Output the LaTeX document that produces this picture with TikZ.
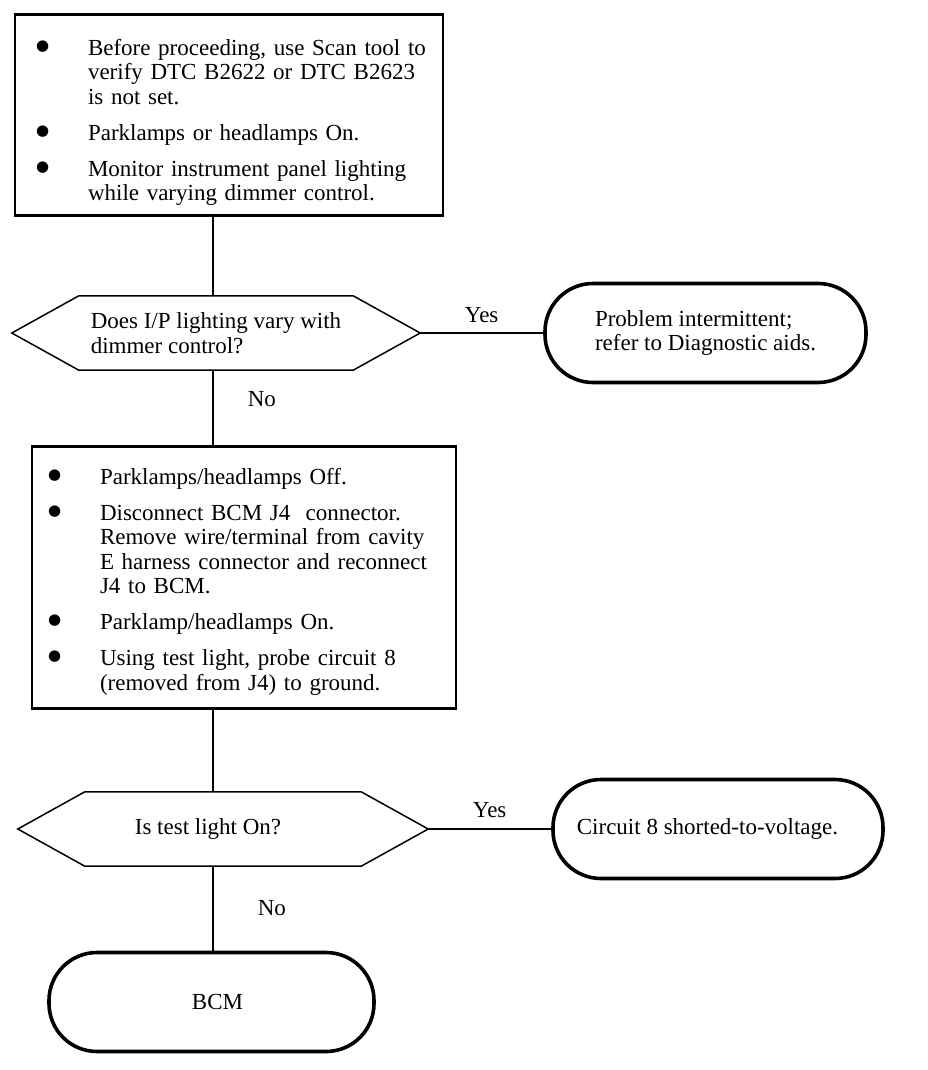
\documentclass[tikz,border=0pt]{standalone}
\usepackage{fontspec}
\setmainfont{Liberation Serif}
\newfontfamily\symfont{DejaVu Sans}
\usetikzlibrary{positioning}

\newcommand{\blt}{\raisebox{5pt}{\symfont\fontsize{15}{15}\selectfont ●}}

\begin{document}
\begin{tikzpicture}[x=1pt, y=1pt,
  font=\fontsize{23}{24.5}\selectfont,
  box/.style={draw, line width=2.6pt, anchor=north, inner ysep=0pt, align=left},
  query/.style={inner sep=0pt, minimum height=74pt},
  hexline/.style={line width=1.5pt, line join=miter},
  term/.style={draw, line width=3.6pt, rounded corners=48pt, inner sep=0pt, minimum height=99pt},
  lab/.style={inner sep=1pt},
  link/.style={line width=1.6pt},
]
\useasboundingbox (0,0) rectangle (928,-1070);
\coordinate (spine) at (213,0);

% checks before the first test
\node[box, inner xsep=21pt, text width=386pt, text height=41pt, text depth=160pt] (prep) at (229,-13) {%
  \begin{tabular}[t]{@{}p{52pt}@{}l@{}}
  \blt & Before proceeding, use Scan tool to\\
       & verify DTC B2622 or DTC B2623\\
       & is not set.\\[11.5pt]
  \blt & Parklamps or headlamps On.\\[11.5pt]
  \blt & Monitor instrument panel lighting\\
       & while varying dimmer control.
  \end{tabular}};

% first test
\node[query, minimum width=408pt, align=left] (q1) at (216,-333) {Does I/P lighting vary with\\dimmer control?};
\node[term, minimum width=321pt, align=left] (t1) at (705.5,-333) {Problem intermittent;\\refer to Diagnostic aids.};

% probing circuit 8
\node[box, inner xsep=16pt, text width=392pt, text height=38pt, text depth=224pt] (probe) at (244,-445) {%
  \begin{tabular}[t]{@{}p{52pt}@{}l@{}}
  \blt & Parklamps/headlamps Off.\\[11.5pt]
  \blt & Disconnect BCM J4\ \ connector.\\
       & Remove wire/terminal from cavity\\
       & E harness connector and reconnect\\
       & J4 to BCM.\\[11.5pt]
  \blt & Parklamp/headlamps On.\\[11.5pt]
  \blt & Using test light, probe circuit 8\\
       & (removed from J4) to ground.
  \end{tabular}};

% second test
\node[query, minimum width=410pt] (q2) at (223,-829) {Is test light On?\hspace{30pt}\mbox{}};
\node[term, minimum width=330pt] (t2) at (718,-829) {Circuit 8 shorted-to-voltage.\hspace{21pt}\mbox{}};
\node[term, minimum width=325pt] (bcm) at (211.5,-1002) {\hspace{12pt}BCM};

\foreach \q in {q1,q2}
  \draw[hexline] (\q.west) -- ([xshift=67pt]\q.north west) -- ([xshift=-67pt]\q.north east)
    -- (\q.east) -- ([xshift=-67pt]\q.south east) -- ([xshift=67pt]\q.south west) -- cycle;

\draw[link] (prep.south -| spine) -- (q1.north -| spine);
\draw[link] (q1.east) -- node[lab, above=8pt] {Yes} (t1.west);
\draw[link] (q1.south -| spine) -- node[lab, pos=0.38, right=33pt] {No} (probe.north -| spine);
\draw[link] (probe.south -| spine) -- (q2.north -| spine);
\draw[link] (q2.east) -- node[lab, above=9pt] {Yes} (t2.west);
\draw[link] (q2.south -| spine) -- node[lab, right=43pt] {No} (bcm.north -| spine);
\end{tikzpicture}
\end{document}
